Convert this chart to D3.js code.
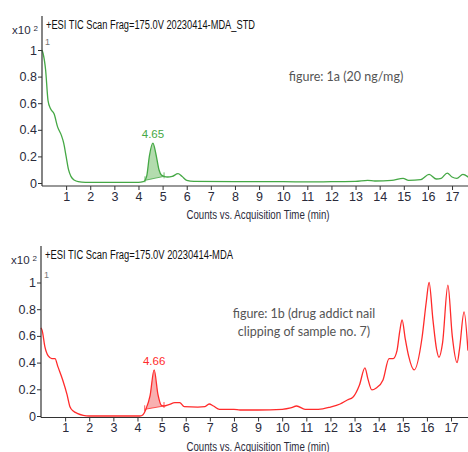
<!DOCTYPE html>
<html><head><meta charset="utf-8">
<script src="https://cdn.jsdelivr.net/npm/d3@7"></script>
<style>html,body{margin:0;padding:0;background:#fff;}svg{display:block;}</style>
</head><body>
<svg id="chart" width="468" height="452"></svg>
<script>
// ---- data ----
const xTicks = [1,2,3,4,5,6,7,8,9,10,11,12,13,14,15,16,17];
const yTicks = [0,0.2,0.4,0.6,0.8,1];
const yTickLabels = ["0","0.2","0.4","0.6","0.8","1"];

const stdTime = [0,0.05,0.15,0.25,0.35,0.5,0.65,0.8,0.9,1.0,1.1,1.2,1.35,1.5,1.8,3,4.0,4.2,4.27,4.35,4.45,4.6,4.72,4.85,4.95,5.06,5.2,5.4,5.64,5.8,6.0,6.3,8,10,11,12,13,13.5,13.8,14.5,14.97,15.2,15.7,16.05,16.35,16.55,16.8,17.0,17.2,17.45,17.7];
const stdCounts = [1.0,0.97,0.85,0.62,0.56,0.52,0.42,0.36,0.30,0.2,0.1,0.05,0.02,0.01,0.005,0.005,0.005,0.01,0.02,0.06,0.2,0.30,0.22,0.1,0.06,0.05,0.045,0.05,0.07,0.05,0.02,0.012,0.01,0.01,0.008,0.01,0.012,0.02,0.015,0.02,0.035,0.02,0.025,0.065,0.03,0.035,0.075,0.045,0.035,0.065,0.04];

const nailTime = [0,0.05,0.16,0.3,0.45,0.58,0.7,0.9,1.08,1.2,1.35,1.5,1.75,2,4.1,4.23,4.35,4.52,4.69,4.85,4.99,5.1,5.3,5.55,5.75,5.94,6.5,6.8,6.97,7.15,7.4,8,8.25,9,10,10.35,10.6,10.95,11.5,12,12.4,12.7,12.93,13.2,13.43,13.55,13.72,13.9,14.18,14.43,14.6,14.76,14.87,14.97,15.1,15.24,15.47,15.8,15.97,16.09,16.25,16.4,16.5,16.65,16.87,17.05,17.25,17.35,17.54,17.7];
const nailCounts = [0.66,0.64,0.52,0.45,0.43,0.43,0.37,0.27,0.16,0.07,0.035,0.02,0.005,0.0,0.0,0.01,0.05,0.15,0.345,0.16,0.08,0.075,0.085,0.1,0.1,0.07,0.067,0.07,0.09,0.075,0.05,0.05,0.045,0.045,0.05,0.06,0.075,0.05,0.05,0.067,0.09,0.12,0.14,0.23,0.36,0.28,0.195,0.21,0.27,0.43,0.43,0.49,0.63,0.72,0.58,0.45,0.345,0.59,0.85,1.0,0.72,0.5,0.44,0.55,0.98,0.6,0.40,0.5,0.78,0.49];

const panelTitles = ["+ESI TIC Scan Frag=175.0V 20230414-MDA_STD","+ESI TIC Scan Frag=175.0V 20230414-MDA"];
const peakLabels = ["4.65","4.66"];
const peakTimes = [4.6,4.69];
const peakRanges = [[4.27,5.06],[4.3,5.1]];
const notes = [["figure: 1a (20 ng/mg)"],["figure: 1b (drug addict nail","clipping of sample no. 7)"]];
const xTitle = "Counts vs. Acquisition Time (min)";

// ---- drawing ----
const svg = d3.select("#chart");
const tickFont = "'Liberation Sans Narrow','Arial Narrow','Liberation Sans',Arial,sans-serif";

function drawPanel(o){
  const x = d3.scaleLinear().domain([0,17.7]).range([o.x0, o.x0+17.7*24.12]);
  const y = d3.scaleLinear().domain([0,1]).range([o.y0, o.y1]);
  const g = svg.append("g");
  const data = o.time.map((t,i)=>({t, v:o.counts[i]}));

  // peak fill
  const [a,b] = o.range;
  const va = data.find(d=>d.t>=a).v, vb = data.find(d=>d.t>=b).v;
  const inner = data.filter(d=>d.t>a && d.t<b);
  const pts = [{t:a,v:va},...inner,{t:b,v:vb}];
  const base = t => va + (vb-va)*(t-a)/(b-a);
  g.append("path").datum(pts)
    .attr("d", d3.area().x(d=>x(d.t)).y0(d=>y(base(d.t))).y1(d=>y(d.v)).curve(d3.curveMonotoneX))
    .attr("fill", o.fill).attr("stroke","none");
  g.append("line").attr("x1",x(a)).attr("x2",x(b)).attr("y1",y(va)).attr("y2",y(vb))
    .attr("stroke",o.color).attr("stroke-width",0.8);
  [[a,va],[b,vb]].forEach(([t,v])=>{
    g.append("line").attr("x1",x(t)).attr("x2",x(t)).attr("y1",y(v)-4).attr("y2",y(v)+2)
     .attr("stroke",o.color).attr("stroke-width",0.8);
  });

  // trace
  g.append("path").datum(data)
    .attr("d", d3.line().x(d=>x(d.t)).y(d=>y(d.v)).curve(d3.curveMonotoneX))
    .attr("fill","none").attr("stroke",o.color).attr("stroke-width",1.3);

  // axes
  const axisColor = "#333";
  g.append("line").attr("x1",o.x0).attr("x2",o.x0).attr("y1",o.axTop).attr("y2",o.axY).attr("stroke",axisColor).attr("stroke-width",1.2);
  g.append("line").attr("x1",o.x0).attr("x2",468).attr("y1",o.axY).attr("y2",o.axY).attr("stroke",axisColor).attr("stroke-width",1.2);

  const xa = d3.axisBottom(x).tickValues(xTicks).tickSize(4).tickPadding(2).tickFormat(d3.format("d"));
  const xg = g.append("g").attr("transform",`translate(0,${o.axY})`).call(xa);
  xg.select(".domain").remove();
  xg.selectAll("line").attr("stroke",axisColor);
  xg.selectAll("text").attr("font-family",tickFont).attr("font-size",12.5).attr("fill","#2b2b3b");

  const ya = d3.axisLeft(y).tickValues(yTicks).tickSize(4).tickPadding(1).tickFormat((d,i)=>yTickLabels[i]);
  const yg = g.append("g").attr("transform",`translate(${o.x0},0)`).call(ya);
  yg.select(".domain").remove();
  yg.selectAll("line").attr("stroke",axisColor);
  yg.selectAll("text").attr("font-family",tickFont).attr("font-size",12.5).attr("fill","#2b2b3b");

  // multiplier
  const m = g.append("text").attr("x",o.x0-4).attr("y",o.axTop+18).attr("text-anchor","end")
    .attr("font-family",tickFont).attr("font-size",11.5).attr("fill","#2b2b3b");
  m.append("tspan").text("x10");
  m.append("tspan").attr("dx",3).attr("dy",-3).attr("font-size",8).text("2");

  // title
  g.append("text").attr("x",o.x0+4).attr("y",o.axTop+13).attr("font-family",tickFont).attr("font-size",12)
    .attr("fill","#111").attr("textLength",o.titleW).attr("lengthAdjust","spacingAndGlyphs").text(o.title);
  // "1" label
  g.append("text").attr("x",o.x0+3).attr("y",y(1)-5).attr("font-family",tickFont).attr("font-size",9)
    .attr("fill","#777").text("1");

  // peak label
  g.append("text").attr("x",x(o.peakT)).attr("y",y(d3.max(pts,d=>d.v))-5).attr("text-anchor","middle")
    .attr("font-family",tickFont).attr("font-size",11.5).attr("fill",o.color).text(o.peakLabel);

  // x title
  g.append("text").attr("x",258).attr("y",o.axY+33).attr("text-anchor","middle")
    .attr("font-family",tickFont).attr("font-size",12.5).attr("fill","#2b2b3b")
    .attr("textLength",143).attr("lengthAdjust","spacingAndGlyphs").text(xTitle);

  // note
  o.note.forEach((s,i)=>{
    g.append("text").attr("x",o.noteX).attr("y",o.noteY+i*18).attr("text-anchor","middle")
      .attr("font-family","Lato,'Open Sans',sans-serif").attr("font-size",12.5).attr("fill","#555").text(s);
  });
}

drawPanel({x0:42, y0:183, y1:50, axY:186, axTop:16, time:stdTime, counts:stdCounts,
  color:"#45a845", fill:"#b3dcae", range:peakRanges[0], peakT:peakTimes[0], peakLabel:peakLabels[0],
  title:panelTitles[0], titleW:209, note:notes[0], noteX:346, noteY:81});
drawPanel({x0:41, y0:416, y1:282.5, axY:417.5, axTop:246, time:nailTime, counts:nailCounts,
  color:"#ff2b2b", fill:"#f8b0b0", range:peakRanges[1], peakT:peakTimes[1], peakLabel:peakLabels[1],
  title:panelTitles[1], titleW:188, note:notes[1], noteX:304, noteY:318});
</script>
</body></html>
